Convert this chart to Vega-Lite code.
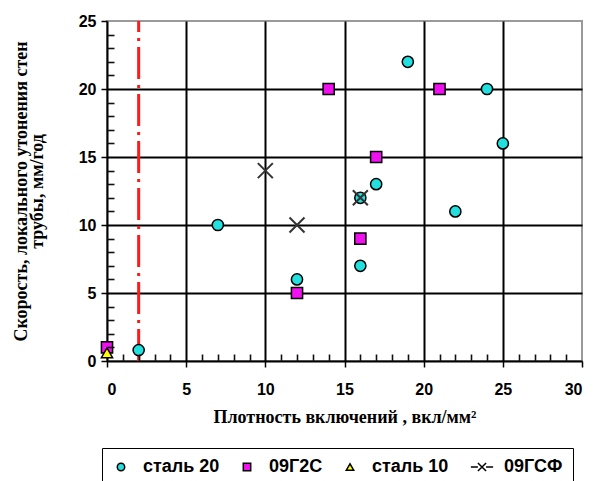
{
  "$schema": "https://vega.github.io/schema/vega-lite/v6.json",
  "width": 475,
  "height": 340,
  "autosize": {"type": "none"},
  "padding": {"left": 107, "top": 21, "right": 12, "bottom": 120},
  "background": "white",
  "config": {"view": {"stroke": "#9a9a9a", "strokeWidth": 2}},
  "datasets": {
    "pts": [
      {"series": "сталь 20", "x": 2, "y": 0.8},
      {"series": "сталь 20", "x": 7, "y": 10},
      {"series": "сталь 20", "x": 12, "y": 6},
      {"series": "сталь 20", "x": 16, "y": 7},
      {"series": "сталь 20", "x": 16, "y": 12},
      {"series": "сталь 20", "x": 17, "y": 13},
      {"series": "сталь 20", "x": 22, "y": 11},
      {"series": "сталь 20", "x": 19, "y": 22},
      {"series": "сталь 20", "x": 24, "y": 20},
      {"series": "сталь 20", "x": 25, "y": 16},
      {"series": "09Г2С", "x": 0, "y": 1},
      {"series": "09Г2С", "x": 12, "y": 5},
      {"series": "09Г2С", "x": 14, "y": 20},
      {"series": "09Г2С", "x": 16, "y": 9},
      {"series": "09Г2С", "x": 17, "y": 15},
      {"series": "09Г2С", "x": 21, "y": 20},
      {"series": "сталь 10", "x": 0, "y": 0.6},
      {"series": "09ГСФ", "x": 10, "y": 14},
      {"series": "09ГСФ", "x": 12, "y": 10},
      {"series": "09ГСФ", "x": 16, "y": 12}
    ],
    "limit": [{"x": 2, "y": 0, "y2": 25}]
  },
  "resolve": {"scale": {"x": "independent", "y": "independent"}, "axis": {"x": "independent", "y": "independent"}},
  "layer": [
    {
      "data": {"name": "limit"},
      "mark": {"type": "rule", "color": "#FF1A1A", "strokeWidth": 3, "strokeDash": [32, 6, 3, 6]},
      "encoding": {
        "x": {
          "field": "x", "type": "quantitative",
          "scale": {"domain": [0, 30], "nice": false, "zero": false},
          "axis": {
            "orient": "bottom", "title": null, "labels": true, "labelColor": "white", "labelFontSize": 1, "grid": false, "domain": false,
            "values": [1,2,3,4,6,7,8,9,11,12,13,14,16,17,18,19,21,22,23,24,26,27,28,29],
            "offset": -7, "tickSize": 7, "tickColor": "#111111", "tickWidth": 1.6, "zindex": 3
          }
        },
        "y": {
          "field": "y", "type": "quantitative",
          "scale": {"domain": [0, 25], "nice": false, "zero": false},
          "axis": {
            "orient": "left", "title": null, "labels": true, "labelColor": "white", "labelFontSize": 1, "grid": false, "domain": false,
            "values": [1,2,3,4,6,7,8,9,11,12,13,14,16,17,18,19,21,22,23,24],
            "offset": -7, "tickSize": 7, "tickColor": "#111111", "tickWidth": 1.6, "zindex": 3
          }
        },
        "y2": {"field": "y2"}
      }
    },
    {
      "data": {"name": "pts"},
      "transform": [{"filter": "datum.series !== '09ГСФ'"}],
      "mark": {"type": "point", "filled": true, "stroke": "black", "strokeWidth": 1.5, "size": 125, "opacity": 1},
      "encoding": {
        "x": {
          "field": "x", "type": "quantitative",
          "scale": {"domain": [0, 30], "nice": false, "zero": false},
          "axis": {
            "orient": "bottom",
            "title": "Плотность включений , вкл/мм²",
            "values": [0, 5, 10, 15, 20, 25, 30],
            "labelFont": "Liberation Sans", "labelFontWeight": "bold", "labelFontSize": 16, "labelColor": "black",
            "labelPadding": 14,
            "tickSize": 6, "tickColor": "black", "tickWidth": 1.5,
            "domainColor": "black", "domainWidth": 2,
            "grid": true, "gridColor": "black", "gridWidth": 2,
            "gridOpacity": {"condition": {"test": "datum.value > 0 && datum.value < 30", "value": 1}, "value": 0},
            "titleFont": "Liberation Serif", "titleFontWeight": "bold", "titleFontSize": 18, "titleColor": "black",
            "titlePadding": 11
          }
        },
        "y": {
          "field": "y", "type": "quantitative",
          "scale": {"domain": [0, 25], "nice": false, "zero": false},
          "axis": {
            "orient": "left",
            "title": ["Скорость, локального утонения стен", "трубы, мм/год"],
            "values": [0, 5, 10, 15, 20, 25],
            "labelFont": "Liberation Sans", "labelFontWeight": "bold", "labelFontSize": 16, "labelColor": "black",
            "labelPadding": 5,
            "tickSize": 6, "tickColor": "black", "tickWidth": 1.5,
            "domainColor": "black", "domainWidth": 2,
            "grid": true, "gridColor": "black", "gridWidth": 2,
            "gridOpacity": {"condition": {"test": "datum.value > 0 && datum.value < 25", "value": 1}, "value": 0},
            "titleFont": "Liberation Serif", "titleFontWeight": "bold", "titleFontSize": 18, "titleColor": "black",
            "titleLineHeight": 16,
            "titlePadding": 32
          }
        },
        "fill": {
          "field": "series", "type": "nominal",
          "scale": {"domain": ["сталь 20", "09Г2С", "сталь 10", "09ГСФ"], "range": ["#22E0E0", "#F010F0", "#FFFF00", "transparent"]},
          "legend": {
            "title": null, "orient": "none", "legendX": -5, "legendY": 427, "direction": "horizontal",
            "strokeColor": "black", "padding": 10,
            "labelFont": "Liberation Sans", "labelFontWeight": "bold", "labelFontSize": 18, "labelColor": "black",
            "symbolSize": 55, "symbolStrokeWidth": 1.5, "symbolStrokeColor": "black",
            "labelOffset": 13, "columnPadding": 18,
            "encode": {
              "legend": {"update": {"strokeWidth": {"value": 2}}},
              "symbols": {"update": {"stroke": [
                {"test": "datum.value === '09ГСФ'", "value": {"gradient": "linear", "x1": 0, "y1": 0, "x2": 1, "y2": 0, "stops": [
                  {"offset": 0, "color": "#6FDEDE"}, {"offset": 0.3, "color": "#6FDEDE"},
                  {"offset": 0.3, "color": "#222222"}, {"offset": 0.7, "color": "#222222"},
                  {"offset": 0.7, "color": "#6FDEDE"}, {"offset": 1, "color": "#6FDEDE"}]}},
                {"value": "black"}
              ]}}
            }
          }
        },
        "shape": {
          "field": "series", "type": "nominal",
          "scale": {"domain": ["сталь 20", "09Г2С", "сталь 10", "09ГСФ"], "range": ["circle", "square", "triangle-up", "M-3,0L-1.1,0M1.1,0L3,0M-1.1,-1.1L1.1,1.1M1.1,-1.1L-1.1,1.1"]}
        }
      }
    },
    {
      "data": {"name": "pts"},
      "transform": [{"filter": "datum.series === '09ГСФ'"}],
      "mark": {"type": "point", "filled": false, "shape": "M-1,-1L1,1M1,-1L-1,1", "stroke": "#333333", "strokeWidth": 2, "size": 225, "opacity": 1},
      "encoding": {
        "x": {"field": "x", "type": "quantitative", "scale": {"domain": [0, 30], "nice": false, "zero": false}, "axis": null},
        "y": {"field": "y", "type": "quantitative", "scale": {"domain": [0, 25], "nice": false, "zero": false}, "axis": null}
      }
    }
  ]
}
